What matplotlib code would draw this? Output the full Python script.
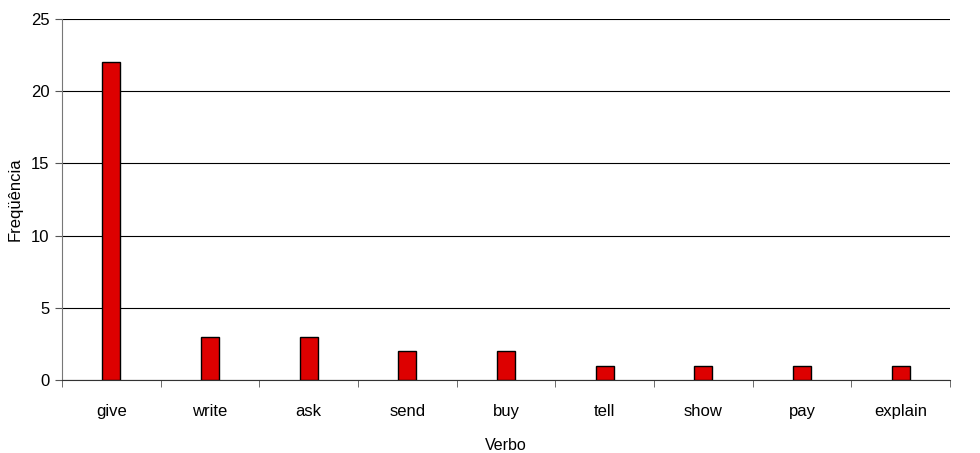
import matplotlib
matplotlib.use("Agg")
import matplotlib.pyplot as plt
import numpy as np

plt.rcParams['font.family'] = ['Liberation Sans', 'DejaVu Sans']

verbs = ["give", "write", "ask", "send", "buy", "tell", "show", "pay", "explain"]
freq = [22, 3, 3, 2, 2, 1, 1, 1, 1]
yticks = [0, 5, 10, 15, 20, 25]

fig = plt.figure(figsize=(9.8, 4.53), dpi=100)
ax = fig.add_axes([62/980, 73/453, 888/980, 361/453])

x = np.arange(len(verbs))
ax.bar(x, freq, width=0.18, color="#DD0000", edgecolor="black", linewidth=1, zorder=3)

ax.set_xlim(-0.5, len(verbs) - 0.5)
ax.set_ylim(0, 25)
ax.set_yticks(yticks)
ax.yaxis.grid(True, color="black", linewidth=0.8, zorder=0)
ax.set_axisbelow(True)

ax.set_xticks(x)
ax.set_xticklabels(verbs, fontsize=12)
ax.tick_params(axis='x', which='major', length=0, pad=17)
ax.set_xticks(np.arange(-0.5, len(verbs)), minor=True)
ax.tick_params(axis='x', which='minor', length=5, color="#555555", direction='out')
ax.tick_params(axis='y', labelsize=12, length=5, color="#555555", direction='out', pad=4)

for s in ["top", "right"]:
    ax.spines[s].set_visible(False)
ax.spines["left"].set_color("#777777")
ax.spines["bottom"].set_color("#333333")

ax.set_ylabel("Freqüência", fontsize=12, labelpad=6)
ax.set_xlabel("Verbo", fontsize=11.5, labelpad=14)

fig.savefig("out.png", dpi=100)
